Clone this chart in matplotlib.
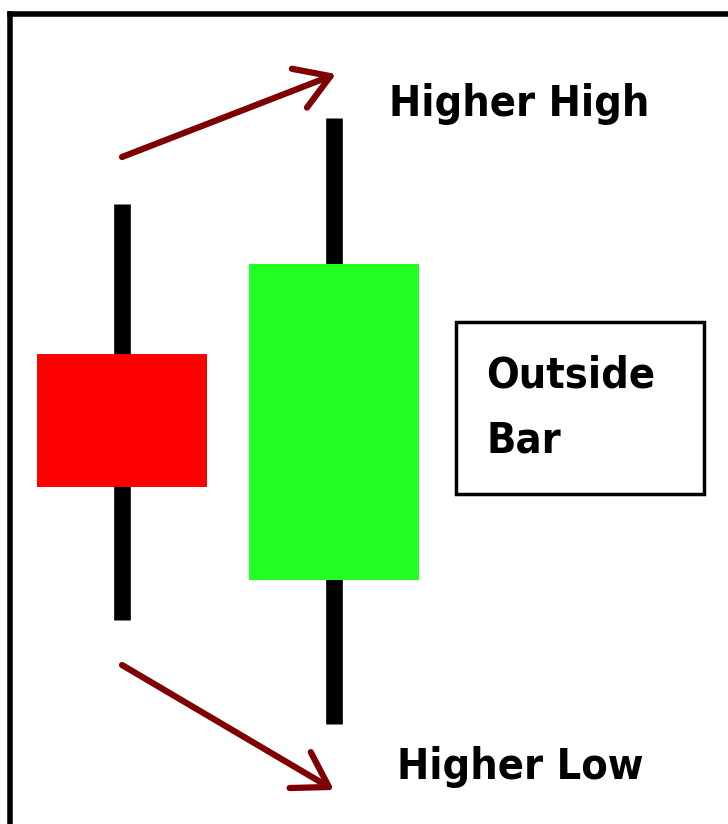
import matplotlib
matplotlib.use("Agg")
import matplotlib.pyplot as plt
from matplotlib.patches import Rectangle

# ── Data (price units, 0 = bottom of the picture) ────────────────────────────
names  = ["prev", "outside"]
xpos   = [122, 334]
opens  = [470, 244]
closes = [337, 560]
highs  = [620, 706]
lows   = [204, 100]
colors = ["#ff0000", "#22ff22"]

labels = ["Higher High", "Higher Low"]
box_text = "Outside\nBar"

BODY_W = 170
ARROW_C = "#7f0000"

fig = plt.figure(figsize=(7.28, 8.24), dpi=100)
ax = fig.add_axes([0, 0, 1, 1])
ax.set_xlim(0, 728)
ax.set_ylim(0, 824)
ax.axis("off")

# frame (left + top only visible)
ax.plot([10, 10], [-10, 810], color="black", lw=4, solid_capstyle="projecting")
ax.plot([10, 740], [810, 810], color="black", lw=4, solid_capstyle="projecting")

# candles
for x, o, c, h, l, col in zip(xpos, opens, closes, highs, lows, colors):
    ax.plot([x, x], [l, h], color="black", lw=12, solid_capstyle="butt", zorder=1)
    ax.add_patch(Rectangle((x - BODY_W / 2, min(o, c)), BODY_W, abs(c - o),
                           facecolor=col, edgecolor="none", zorder=2))

# arrows
head = "->,head_length=0.8,head_width=0.5"
ax.annotate("", xy=(xpos[1] + 2, highs[1] + 44), xytext=(xpos[0], highs[0] + 47),
            arrowprops=dict(arrowstyle=head, color=ARROW_C, lw=4.5,
                            mutation_scale=30, shrinkA=0, shrinkB=0))
ax.annotate("", xy=(xpos[1], lows[1] - 66), xytext=(xpos[0], lows[0] - 45),
            arrowprops=dict(arrowstyle=head, color=ARROW_C, lw=4.5,
                            mutation_scale=30, shrinkA=0, shrinkB=0))

font = dict(family="DejaVu Sans", fontstretch="condensed", fontweight="bold",
            fontsize=31, color="black")
ax.text(389, 720, labels[0], ha="left", va="center", **font)
ax.text(397, 57, labels[1], ha="left", va="center", **font)

# outside bar box
ax.add_patch(Rectangle((456, 330), 248, 172, facecolor="white",
                       edgecolor="black", lw=2.5))
ax.text(486, 416, box_text, ha="left", va="center", linespacing=1.7, **font)

fig.savefig("out.png", dpi=100)
